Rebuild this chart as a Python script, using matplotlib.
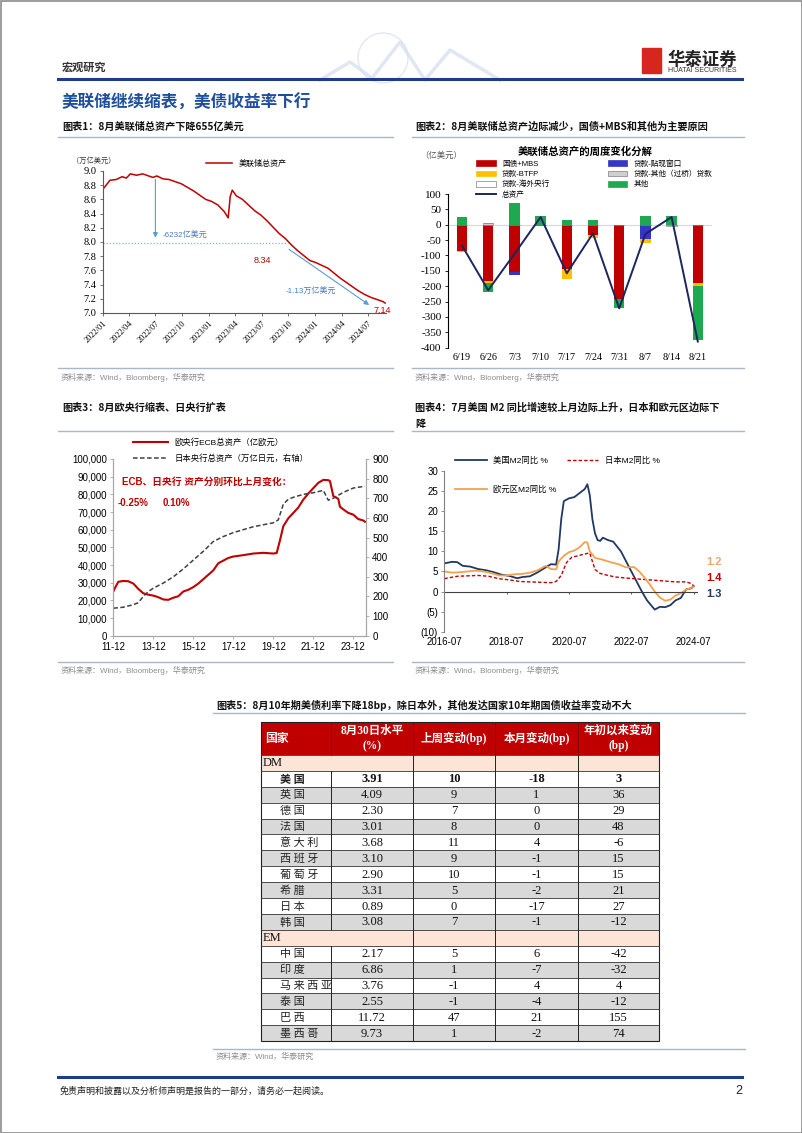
import matplotlib.pyplot as plt
import numpy as np
import pandas as pd
from matplotlib.patches import Rectangle, Patch, Circle
from matplotlib.lines import Line2D
from matplotlib.ticker import FuncFormatter

plt.rcParams['font.family'] = ['Liberation Sans', 'Noto Sans CJK SC']
plt.rcParams['axes.unicode_minus'] = False

SERIF = ['Liberation Serif', 'Noto Sans CJK SC']
CJK = ['Noto Sans CJK SC', 'DejaVu Sans']
W, H = 802, 1133

# ---- 图表1: 美联储总资产 (万亿美元)
fed_dates = ['2022-01-05', '2022-01-26', '2022-02-16', '2022-03-09', '2022-03-23', '2022-04-06',
             '2022-04-27', '2022-05-18', '2022-06-08', '2022-06-22', '2022-07-06', '2022-07-27',
             '2022-08-17', '2022-09-07', '2022-09-28', '2022-10-19', '2022-11-09', '2022-11-30',
             '2022-12-21', '2023-01-11', '2023-02-01', '2023-02-22', '2023-03-08', '2023-03-15',
             '2023-03-22', '2023-04-05', '2023-04-26', '2023-05-17', '2023-06-07', '2023-06-28',
             '2023-07-19', '2023-08-09', '2023-08-30', '2023-09-20', '2023-10-11', '2023-11-01',
             '2023-11-22', '2023-12-13', '2024-01-03', '2024-01-24', '2024-02-14', '2024-03-06',
             '2024-03-27', '2024-04-17', '2024-05-08', '2024-05-29', '2024-06-19', '2024-07-10',
             '2024-07-31', '2024-08-21', '2024-08-28']
fed_assets = [8.76, 8.87, 8.88, 8.92, 8.90, 8.96, 8.94, 8.96, 8.93, 8.91, 8.93, 8.89,
              8.88, 8.85, 8.82, 8.77, 8.72, 8.66, 8.60, 8.57, 8.52, 8.43, 8.34, 8.64,
              8.73, 8.65, 8.60, 8.52, 8.44, 8.38, 8.30, 8.21, 8.12, 8.05, 7.96, 7.88,
              7.81, 7.74, 7.71, 7.67, 7.63, 7.56, 7.49, 7.43, 7.37, 7.31, 7.26, 7.22,
              7.19, 7.16, 7.14]

# ---- 图表2: 周度变化分解 (亿美元)
weeks = ['6/19', '6/26', '7/3', '7/10', '7/17', '7/24', '7/31', '8/7', '8/14', '8/21']
tsy_mbs = [-85, -182, -155, -3, -145, -35, -240, 0, 0, -190]
discount = [0, 0, -10, 0, 0, 0, 0, -47, 0, 0]
btfp = [-3, -8, 0, 0, -30, -7, 0, -13, 0, -8]
other_loans = [0, 5, 0, 0, 0, 0, 0, 0, -5, 0]
fx_cb = [0, 0, 0, 0, 0, 0, 0, 0, 0, 0]
others = [25, -28, 70, 28, 17, 16, -32, 28, 28, -177]
total = [-68, -213, -95, 25, -158, -28, -272, -30, 25, -380]

# ---- 图表3: 欧央行 / 日本央行
ecb_dates = ['2011-12', '2012-01', '2012-03', '2012-06', '2012-09', '2012-12', '2013-03', '2013-06',
             '2013-09', '2013-12', '2014-03', '2014-06', '2014-09', '2014-12', '2015-03', '2015-06',
             '2015-09', '2015-12', '2016-03', '2016-06', '2016-09', '2016-12', '2017-03', '2017-06',
             '2017-09', '2017-12', '2018-06', '2018-12', '2019-06', '2019-12', '2020-02', '2020-04',
             '2020-06', '2020-09', '2020-12', '2021-03', '2021-06', '2021-09', '2021-12', '2022-03',
             '2022-06', '2022-09', '2022-10', '2022-12', '2023-03', '2023-04', '2023-06', '2023-09',
             '2023-12', '2024-03', '2024-06', '2024-07']
ecb_assets = [25000, 27000, 30500, 31000, 30800, 29500, 26500, 24000,
              23200, 22700, 21800, 20500, 20300, 21500, 22300, 25000,
              26000, 27500, 29500, 32000, 34500, 37000, 41000, 42500,
              44000, 44800, 45600, 46500, 46900, 46500, 46800, 54000,
              62000, 66500, 69500, 72500, 77000, 80500, 83500, 86500,
              88200, 88000, 87500, 79000, 77500, 73000, 71500, 69500,
              68500, 66000, 65200, 64500]
boj_dates = ['2011-12', '2012-06', '2012-12', '2013-03', '2013-06', '2013-09', '2013-12', '2014-06',
             '2014-12', '2015-06', '2015-12', '2016-06', '2016-12', '2017-06', '2017-12', '2018-06',
             '2018-12', '2019-06', '2019-12', '2020-03', '2020-06', '2020-09', '2020-12', '2021-06',
             '2021-12', '2022-06', '2022-09', '2022-12', '2023-06', '2023-12', '2024-06', '2024-07']
boj_assets = [140, 145, 158, 168, 200, 225, 242, 268,
              300, 340, 385, 430, 480, 505, 525, 540,
              555, 565, 575, 590, 670, 695, 705, 720,
              728, 740, 690, 700, 730, 752, 760, 760]

# ---- 图表4: M2 同比 %
us_dates = ['2016-07', '2016-10', '2016-12', '2017-02', '2017-05', '2017-08', '2017-11', '2018-02',
            '2018-05', '2018-08', '2018-11', '2019-01', '2019-04', '2019-07', '2019-10', '2019-12',
            '2020-02', '2020-03', '2020-04', '2020-05', '2020-07', '2020-09', '2020-11', '2021-01',
            '2021-02', '2021-03', '2021-04', '2021-05', '2021-06', '2021-07', '2021-08', '2021-10',
            '2021-12', '2022-03', '2022-05', '2022-07', '2022-09', '2022-11', '2023-01', '2023-04',
            '2023-06', '2023-08', '2023-10', '2023-12', '2024-02', '2024-04', '2024-06', '2024-07']
us_m2 = [7.0, 7.4, 7.3, 6.4, 6.2, 5.6, 5.3, 4.8,
         4.2, 3.9, 3.3, 3.6, 3.8, 4.8, 6.0, 6.8,
         6.7, 10.5, 18.0, 22.5, 23.2, 23.5, 24.5, 25.5,
         26.7, 24.0, 18.0, 14.5, 12.8, 12.6, 13.4, 12.8,
         12.4, 10.0, 7.5, 5.0, 2.5, 0.0, -2.2, -4.5,
         -3.8, -3.9, -3.4, -2.2, -1.6, 0.5, 0.8, 1.3]
ez_dates = ['2016-07', '2016-10', '2017-01', '2017-04', '2017-07', '2017-10', '2018-01', '2018-04',
            '2018-07', '2018-10', '2019-01', '2019-04', '2019-07', '2019-10', '2019-12', '2020-02',
            '2020-03', '2020-05', '2020-07', '2020-09', '2020-11', '2021-01', '2021-02', '2021-03',
            '2021-05', '2021-08', '2021-11', '2022-02', '2022-05', '2022-08', '2022-10', '2022-12',
            '2023-02', '2023-04', '2023-06', '2023-08', '2023-10', '2023-12', '2024-02', '2024-04',
            '2024-07']
ez_m2 = [5.0, 4.7, 4.8, 5.0, 5.2, 5.0, 4.6, 4.0,
         4.0, 4.3, 4.4, 4.7, 5.3, 6.4, 5.6, 5.5,
         7.5, 8.9, 9.8, 10.2, 11.0, 12.3, 12.2, 10.0,
         8.4, 7.9, 7.3, 6.8, 6.0, 6.1, 5.0, 3.5,
         1.8, 0.0, -1.5, -2.3, -2.0, -1.0, -0.4, 0.4,
         1.2]
jp_dates = ['2016-07', '2016-12', '2017-04', '2017-08', '2017-12', '2018-04', '2018-08', '2018-12',
            '2019-04', '2019-08', '2019-12', '2020-02', '2020-04', '2020-06', '2020-08', '2020-11',
            '2021-02', '2021-03', '2021-04', '2021-05', '2021-07', '2021-10', '2022-01', '2022-06',
            '2022-12', '2023-06', '2023-12', '2024-04', '2024-06', '2024-07']
jp_m2 = [3.2, 3.8, 3.9, 4.0, 3.8, 3.2, 2.9, 2.5,
         2.4, 2.3, 2.2, 2.5, 4.0, 7.2, 8.5, 9.0,
         9.5, 9.6, 7.5, 5.5, 4.5, 4.0, 3.6, 3.3,
         3.0, 2.7, 2.4, 2.4, 2.0, 1.4]

# ---- 图表5: 10年期国债收益率
dm_names = ['美国', '英国', '德国', '法国', '意大利', '西班牙', '葡萄牙', '希腊', '日本', '韩国']
dm_level = ['3.91', '4.09', '2.30', '3.01', '3.68', '3.10', '2.90', '3.31', '0.89', '3.08']
dm_week = [10, 9, 7, 8, 11, 9, 10, 5, 0, 7]
dm_month = [-18, 1, 0, 0, 4, -1, -1, -2, -17, -1]
dm_ytd = [3, 36, 29, 48, -6, 15, 15, 21, 27, -12]
em_names = ['中国', '印度', '马来西亚', '泰国', '巴西', '墨西哥']
em_level = ['2.17', '6.86', '3.76', '2.55', '11.72', '9.73']
em_week = [5, 1, -1, -1, 47, 1]
em_month = [6, -7, 4, -4, 21, -2]
em_ytd = [-42, -32, 4, -12, 155, 74]
table_header = ['国家', '8月30日水平\n(%)', '上周变动(bp)', '本月变动(bp)', '年初以来变动\n(bp)']


def px_axes(x0, y0, x1, y1):
    return fig.add_axes([x0 / W, 1 - y1 / H, (x1 - x0) / W, (y1 - y0) / H])


def ftext(x, y, s, **kw):
    fig.text(x / W, 1 - y / H, s, **kw)


fig = plt.figure(figsize=(W / 100, H / 100), dpi=100, facecolor='white')

# 页面底层: 线条、标题、表格
pa = fig.add_axes([0, 0, 1, 1])
pa.set_xlim(0, W)
pa.set_ylim(H, 0)
pa.axis('off')
pa.add_patch(Rectangle((0.5, 0.5), W - 1, H - 1, fill=False, ec='#8C8C8C', lw=1.2))

# 页眉装饰
pa.add_patch(Circle((383, 58), 25, fill=False, ec='#E3E8F0', lw=1.0))
pa.plot([320, 350, 372, 400, 425, 450, 500], [80, 62, 78, 42, 80, 50, 80], color='#D3DEEE', lw=2.5,
        alpha=0.7)
pa.plot([58, 742], [79, 79], color='#1F3C88', lw=2.2)
pa.text(62, 71, '宏观研究', fontsize=8, fontweight='bold', color='#333333', family=CJK, style='italic')
pa.add_patch(Rectangle((642, 48), 19, 25, color='#D7261E'))
pa.text(667, 60, '华泰证券', fontsize=12.5, fontweight='bold', color='#222222', family=CJK, va='center')
pa.text(668, 71, 'HUATAI SECURITIES', fontsize=5, color='#333333', va='center')
pa.text(62, 103, '美联储继续缩表，美债收益率下行', fontsize=12, fontweight='bold', color='#1F4E9A',
        family=CJK, va='center')

# 图表标题与来源
for x0, x1 in [(58, 393), (412, 744)]:
    pa.plot([x0, x1], [137, 137], color='#A9B7C9', lw=1)
    pa.plot([x0, x1], [368, 368], color='#A9B7C9', lw=1)
    pa.plot([x0, x1], [431, 431], color='#A9B7C9', lw=1)
    pa.plot([x0, x1], [662, 662], color='#A9B7C9', lw=1)
    pa.text(x0 + 3, 377, '资料来源：Wind，Bloomberg，华泰研究', fontsize=5.8, color='#8C8C8C', va='center')
    pa.text(x0 + 3, 670, '资料来源：Wind，Bloomberg，华泰研究', fontsize=5.8, color='#8C8C8C', va='center')
tkw = dict(fontsize=7.3, fontweight='bold', color='#111111', family=CJK, va='center')
pa.text(62, 127, '图表1：8月美联储总资产下降655亿美元', **tkw)
pa.text(415, 127, '图表2：8月美联储总资产边际减少，国债+MBS和其他为主要原因', **tkw)
pa.text(62, 408, '图表3：8月欧央行缩表、日央行扩表', **tkw)
pa.text(415, 408, '图表4：7月美国 M2 同比增速较上月边际上升，日本和欧元区边际下', **tkw)
pa.text(415, 424, '降', **tkw)
pa.text(216, 705, '图表5：8月10年期美债利率下降18bp，除日本外，其他发达国家10年期国债收益率变动不大', **tkw)
pa.plot([213, 745], [713, 713], color='#A9B7C9', lw=1)
pa.plot([213, 745], [1049, 1049], color='#A9B7C9', lw=1)
pa.text(216, 1057, '资料来源：Wind，华泰研究', fontsize=5.8, color='#8C8C8C', va='center')

# 页脚
pa.plot([58, 742], [1077, 1077], color='#1F3C88', lw=2.2)
pa.text(60, 1091, '免责声明和披露以及分析师声明是报告的一部分，请务必一起阅读。', fontsize=6.5, style='italic',
        family=CJK, color='#222222', va='center')
pa.text(742, 1091, '2', fontsize=9, ha='right', va='center', color='#222222')

# ---- 表格
cols = [261, 331, 413, 495, 578, 659]
top, head_h, row_h = 722, 33, 15.9
rows = [('group', 'DM')]
rows += [('data', r) for r in zip(dm_names, dm_level, dm_week, dm_month, dm_ytd)]
rows += [('group', 'EM')]
rows += [('data', r) for r in zip(em_names, em_level, em_week, em_month, em_ytd)]

pa.add_patch(Rectangle((cols[0], top), cols[-1] - cols[0], head_h, color='#C00000', lw=0))
for i, txt in enumerate(table_header):
    if i == 0:
        pa.text(cols[0] + 4, top + head_h / 2, txt, fontsize=8.5, color='white', fontweight='bold',
                family=SERIF, va='center', ha='left')
    else:
        pa.text((cols[i] + cols[i + 1]) / 2, top + head_h / 2, txt, fontsize=8.3, color='white',
                fontweight='bold', family=SERIF, va='center', ha='center', linespacing=1.35)

y = top + head_h
stripe = 0
for kind, r in rows:
    if kind == 'group':
        pa.add_patch(Rectangle((cols[0], y), cols[-1] - cols[0], row_h, color='#FCE4D6', lw=0))
        pa.text(cols[0] + 2, y + row_h / 2 + 0.5, r, fontsize=9, family=SERIF, va='center', color='#111111')
        stripe = 0
    else:
        fc = '#D9D9D9' if stripe % 2 else 'white'
        pa.add_patch(Rectangle((cols[0], y), cols[-1] - cols[0], row_h, color=fc, lw=0))
        fw = 'bold' if r[0] == '美国' else 'normal'
        pa.text(cols[0] + 19, y + row_h / 2 + 0.5, ' '.join(r[0]), fontsize=8, family=CJK, va='center',
                fontweight=fw, color='#222222')
        for j, v in enumerate(r[1:]):
            pa.text((cols[j + 1] + cols[j + 2]) / 2, y + row_h / 2 + 0.5, str(v), fontsize=9, family=SERIF,
                    ha='center', va='center', fontweight=fw, color='#111111')
        stripe += 1
    pa.plot([cols[0], cols[-1]], [y, y], color='#333333', lw=0.6)
    for k, cx in enumerate(cols[1:-1]):
        if kind == 'group' and k == 0:
            continue
        pa.plot([cx, cx], [y, y + row_h], color='#222222', lw=0.7)
    y += row_h
for cx in cols[1:-1]:
    pa.plot([cx, cx], [top, top + head_h], color='#7F0000', lw=0.7)
pa.add_patch(Rectangle((cols[0], top), cols[-1] - cols[0], y - top, fill=False, ec='#222222', lw=0.8))

# ---- 图表1
ax1 = px_axes(102.7, 171, 386, 313)
d1 = pd.to_datetime(fed_dates)
ax1.plot(d1, fed_assets, color='#C00000', lw=1.1)
ax1.set_ylim(7.0, 9.0)
ax1.set_yticks(np.arange(7.0, 9.01, 0.2))
ax1.yaxis.set_major_formatter(FuncFormatter(lambda v, p: f'{v:.1f}'))
ax1.set_xlim(pd.Timestamp('2022-01-01'), pd.Timestamp('2024-08-31'))
q_ticks = pd.date_range('2022-01-01', '2024-07-01', freq='3MS')
ax1.set_xticks(q_ticks)
ax1.set_xticklabels([t.strftime('%Y/%m') for t in q_ticks], rotation=45, ha='right', rotation_mode='anchor',
                    fontsize=6, family=SERIF)
for lab in ax1.get_yticklabels():
    lab.set_family(SERIF)
    lab.set_fontsize(7.5)
for s in ['top', 'right']:
    ax1.spines[s].set_visible(False)
for s in ['left', 'bottom']:
    ax1.spines[s].set_color('#595959')
    ax1.spines[s].set_linewidth(0.8)
ax1.tick_params(length=2.5, width=0.6, color='#595959', pad=2)
ax1.set_facecolor('none')
arrow_kw = dict(arrowstyle='-|>', color='#5B9BD5', lw=0.8, mutation_scale=7)
ax1.annotate('', xy=(pd.Timestamp('2022-07-01'), 8.02), xytext=(pd.Timestamp('2022-07-01'), 8.92),
             arrowprops=arrow_kw)
ax1.text(pd.Timestamp('2022-07-25'), 8.07, '-6232亿美元', color='#4A7EBB', fontsize=5.8)
ax1.hlines(7.98, pd.Timestamp('2022-01-01'), pd.Timestamp('2023-10-01'), colors='#8FB8A8',
           linestyles=(0, (1, 1.5)), lw=0.9)
ax1.annotate('', xy=(pd.Timestamp('2024-07-12'), 7.09), xytext=(pd.Timestamp('2023-09-25'), 7.92),
             arrowprops=arrow_kw)
ax1.text(pd.Timestamp('2023-09-20'), 7.32, '-1.13万亿美元', color='#4A7EBB', fontsize=5.8, va='center')
ax1.text(pd.Timestamp('2023-06-05'), 7.74, '8.34', color='#C00000', fontsize=6.5, va='center')
ax1.text(pd.Timestamp('2024-07-18'), 7.04, '7.14', color='#C00000', fontsize=6.5, va='center')
ftext(72, 161, '（万亿美元）', fontsize=5.2, color='#333333', va='center')
fig.legend([Line2D([], [], color='#C00000', lw=1.1)], ['美联储总资产'], loc='center left',
           bbox_to_anchor=(199 / W, 1 - 164 / H), fontsize=5.8, frameon=False, handlelength=3.2)

# ---- 图表2
ax2 = px_axes(447.6, 194, 712.2, 347.7)
xb = np.arange(len(weeks))
series = [(tsy_mbs, '国债+MBS', '#C00000', 'none'),
          (discount, '贷款-贴现窗口', '#3535C8', 'none'),
          (btfp, '贷款-BTFP', '#FFC000', 'none'),
          (other_loans, '贷款-其他（过桥）贷款', '#D0D0D0', '#7F7F7F'),
          (fx_cb, '贷款-海外央行', 'white', '#7F7F7F'),
          (others, '其他', '#1FA84F', 'none')]
pos = np.zeros(len(weeks))
neg = np.zeros(len(weeks))
handles = {}
for vals, name, col, ec in series:
    v = np.array(vals, dtype=float)
    bottom = np.where(v >= 0, pos, neg)
    ax2.bar(xb, v, 0.4, bottom=bottom, color=col, edgecolor=ec, lw=0.4, zorder=2)
    pos += np.clip(v, 0, None)
    neg += np.clip(v, None, 0)
    handles[name] = Patch(facecolor=col, edgecolor='#7F7F7F' if ec != 'none' else col, lw=0.5)
ax2.plot(xb, total, color='#1C2560', lw=1.4, zorder=3)
handles['总资产'] = Line2D([], [], color='#1C2560', lw=1.4)
ax2.axhline(0, color='#D9D9D9', lw=0.8, zorder=1)
ax2.set_ylim(-400, 100)
ax2.set_xlim(-0.55, 9.55)
ax2.set_yticks(range(-400, 101, 50))
ax2.set_xticks(xb)
ax2.set_xticklabels(weeks, family=SERIF, fontsize=7.3)
for lab in ax2.get_yticklabels():
    lab.set_family(SERIF)
    lab.set_fontsize(8)
for s in ['top', 'right', 'bottom']:
    ax2.spines[s].set_visible(False)
ax2.spines['left'].set_linewidth(0.8)
ax2.tick_params(axis='x', length=0, pad=4)
ax2.tick_params(axis='y', length=2.5, width=0.6, pad=2)
ax2.set_facecolor('none')
ftext(585, 152, '美联储总资产的周度变化分解', fontsize=7.5, fontweight='bold', family=CJK, ha='center',
      va='center')
ftext(420, 156, '（亿美元）', fontsize=6, color='#555555', va='center')
order = ['国债+MBS', '贷款-BTFP', '贷款-海外央行', '总资产', '贷款-贴现窗口', '贷款-其他（过桥）贷款', '其他']
fig.legend([handles[k] for k in order], order, ncol=2, loc='upper left',
           bbox_to_anchor=(476 / W, 1 - 160 / H), fontsize=5.5, frameon=False, handlelength=2.6,
           handleheight=0.8, labelspacing=0.35, columnspacing=7.5, borderaxespad=0, borderpad=0)

# ---- 图表3
ax3 = px_axes(113.3, 459, 366, 635.7)
ax3.plot(pd.to_datetime(ecb_dates), ecb_assets, color='#C00000', lw=1.5)
ax3.set_ylim(0, 100000)
ax3.set_yticks(range(0, 100001, 10000))
ax3.yaxis.set_major_formatter(FuncFormatter(lambda v, p: f'{v:,.0f}'))
ax3.set_xlim(pd.Timestamp('2011-12-01'), pd.Timestamp('2024-07-20'))
y_ticks3 = pd.date_range('2011-12-01', '2023-12-01', freq='24MS')
ax3.set_xticks(y_ticks3)
ax3.set_xticklabels([t.strftime('%y-%m') for t in y_ticks3])
ax3r = ax3.twinx()
ax3r.plot(pd.to_datetime(boj_dates), boj_assets, color='#404040', ls=(0, (3, 1.6)), lw=1.1)
ax3r.set_ylim(0, 900)
ax3r.set_yticks(range(0, 901, 100))
for a in (ax3, ax3r):
    a.spines['top'].set_visible(False)
    for s in ['left', 'right', 'bottom']:
        a.spines[s].set_color('#A6A6A6')
        a.spines[s].set_linewidth(0.8)
    a.tick_params(labelsize=7, length=2.5, width=0.6, color='#A6A6A6', pad=2)
ax3.set_facecolor('none')
fig.legend([Line2D([], [], color='#C00000', lw=1.5), Line2D([], [], color='#404040', ls=(0, (3, 1.6)), lw=1.1)],
           ['欧央行ECB总资产（亿欧元）', '日本央行总资产（万亿日元，右轴）'], loc='upper left',
           bbox_to_anchor=(133 / W, 1 - 438 / H), fontsize=6, frameon=False, handlelength=4.2,
           labelspacing=0.95, borderaxespad=0, borderpad=0)
ftext(122, 482, 'ECB、日央行 资产分别环比上月变化：', fontsize=7, fontweight='bold', color='#C00000', va='center')
ftext(118, 503, '-0.25%', fontsize=7, fontweight='bold', color='#C00000', va='center')
ftext(163, 503, '0.10%', fontsize=7, fontweight='bold', color='#C00000', va='center')

# ---- 图表4
ax4 = px_axes(444.3, 471, 698, 631.7)
ax4.plot(pd.to_datetime(us_dates), us_m2, color='#1F3864', lw=1.3)
ax4.plot(pd.to_datetime(jp_dates), jp_m2, color='#C00000', ls=(0, (2.5, 1.5)), lw=1.0)
ax4.plot(pd.to_datetime(ez_dates), ez_m2, color='#F5A04C', lw=1.3)
ax4.axhline(0, color='#404040', lw=0.8)
ax4.set_ylim(-10, 30)
ax4.set_yticks(range(-10, 31, 5))
ax4.yaxis.set_major_formatter(FuncFormatter(lambda v, p: f'({abs(v):.0f})' if v < 0 else f'{v:.0f}'))
ax4.set_xlim(pd.Timestamp('2016-07-01'), pd.Timestamp('2024-08-20'))
y_ticks4 = pd.date_range('2016-07-01', '2024-07-01', freq='24MS')
ax4.set_xticks(y_ticks4)
ax4.set_xticklabels([t.strftime('%Y-%m') for t in y_ticks4])
ax4.vlines(y_ticks4, -0.7, 0, color='#404040', lw=0.6)
for s in ['top', 'right', 'bottom']:
    ax4.spines[s].set_visible(False)
ax4.spines['left'].set_color('#808080')
ax4.spines['left'].set_linewidth(0.8)
ax4.tick_params(axis='x', length=0, labelsize=7, pad=4)
ax4.tick_params(axis='y', length=2.5, width=0.6, color='#808080', labelsize=7, pad=2)
ax4.set_facecolor('none')
fig.legend([Line2D([], [], color='#1F3864', lw=1.3), Line2D([], [], color='#C00000', ls=(0, (2.5, 1.5)), lw=1.0)],
           ['美国M2同比 %', '日本M2同比 %'], ncol=2, loc='center left', bbox_to_anchor=(455 / W, 1 - 461 / H),
           fontsize=6, frameon=False, handlelength=3.8, columnspacing=2.2, borderaxespad=0, borderpad=0)
fig.legend([Line2D([], [], color='#F5A04C', lw=1.3)], ['欧元区M2同比 %'], loc='center left',
           bbox_to_anchor=(455 / W, 1 - 490 / H), fontsize=6, frameon=False, handlelength=3.8,
           borderaxespad=0, borderpad=0)
ftext(706, 562, '1.2', fontsize=8, fontweight='bold', color='#F0A868', va='center')
ftext(706, 578, '1.4', fontsize=8, fontweight='bold', color='#C00000', va='center')
ftext(706, 594, '1.3', fontsize=8, fontweight='bold', color='#1F3864', va='center')

fig.savefig('out.png', dpi=100, facecolor='white')
